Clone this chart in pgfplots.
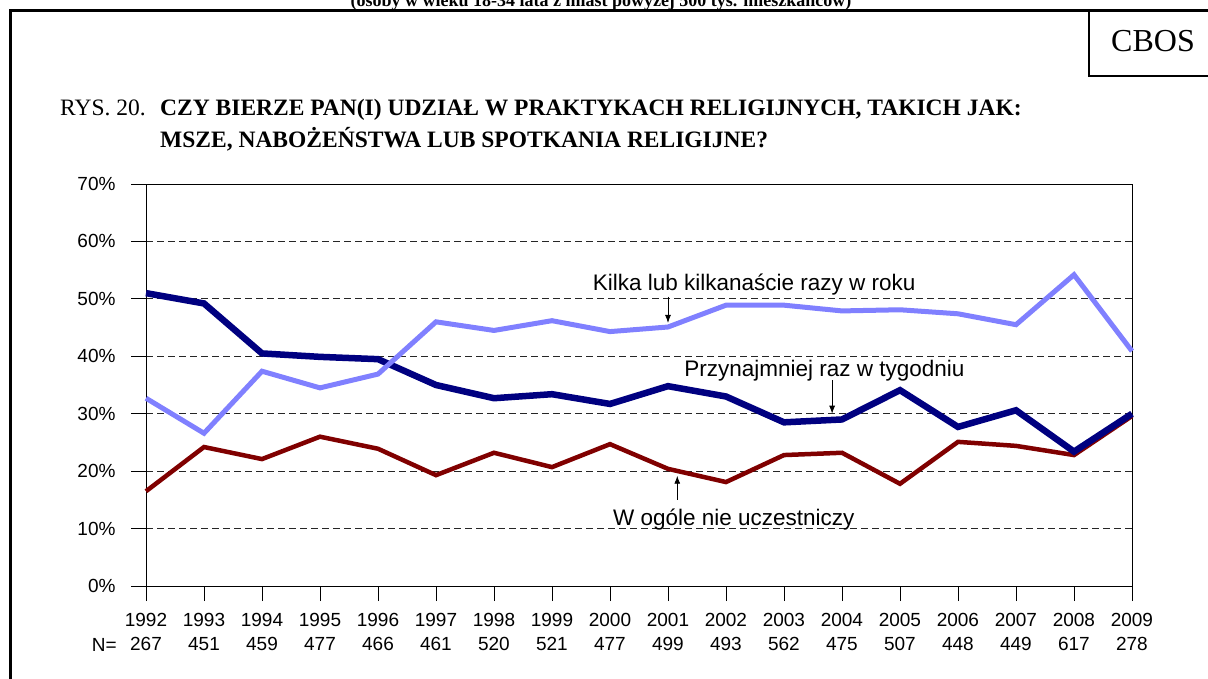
\documentclass[border=0pt]{standalone}
\usepackage{fontspec}
\setmainfont{Liberation Sans}
\newfontfamily\tnr{Liberation Serif}
\usepackage{pgfplots}
\pgfplotsset{compat=1.18}
\usetikzlibrary{arrows.meta}
\definecolor{navyline}{RGB}{0,0,128}
\definecolor{lightline}{RGB}{128,128,255}
\definecolor{redline}{RGB}{128,0,0}
\newcommand{\lab}{\fontsize{19}{24}\selectfont}
\newcommand{\ann}{\fontsize{22.5}{26}\selectfont}

\begin{document}
\begin{tikzpicture}
\useasboundingbox (0pt,0pt) rectangle (1208pt,-679pt);
% frame and header
\node[anchor=base, font=\tnr\bfseries\fontsize{18}{22}\selectfont] at (601pt,-7pt)
  {(osoby w wieku 18-34 lata z miast powyżej 500 tys. mieszkańców)};
\draw[line width=3pt] (10.5pt,-679pt) -- (10.5pt,-11pt) -- (1208pt,-11pt);
\draw[line width=2.5pt] (1089pt,-11pt) -- (1089pt,-76pt) -- (1208pt,-76pt);
\node[font=\tnr\fontsize{32}{38}\selectfont, anchor=base] at (1153pt,-52pt) {CBOS};
\node[anchor=base west, inner sep=0pt, font=\tnr\fontsize{23.5}{28}\selectfont] at (60pt,-116pt) {RYS. 20.};
\node[anchor=base west, inner sep=0pt, font=\tnr\bfseries\fontsize{23.5}{28}\selectfont] at (160pt,-116pt)
  {CZY BIERZE PAN(I) UDZIAŁ W PRAKTYKACH RELIGIJNYCH, TAKICH JAK:};
\node[anchor=base west, inner sep=0pt, font=\tnr\bfseries\fontsize{23.5}{28}\selectfont] at (160pt,-148pt)
  {MSZE, NABOŻEŃSTWA LUB SPOTKANIA RELIGIJNE?};
\node[anchor=base east, inner sep=0pt, font=\lab] at (117pt,-651pt) {N=};

\begin{axis}[
    at={(146pt,-586pt)}, anchor=south west,
    scale only axis, width=986pt, height=402pt,
    xmin=1992, xmax=2009, ymin=0, ymax=70,
    clip=false,
    axis line style={black, line width=1pt},
    xtick={1992,...,2009},
    xticklabels={{1992\\267},{1993\\451},{1994\\459},{1995\\477},{1996\\466},{1997\\461},
      {1998\\520},{1999\\521},{2000\\477},{2001\\499},{2002\\493},{2003\\562},{2004\\475},
      {2005\\507},{2006\\448},{2007\\449},{2008\\617},{2009\\278}},
    xticklabel style={align=center, font=\lab, yshift=-9pt},
    ytick={0,10,...,70},
    yticklabels={0\%,10\%,20\%,30\%,40\%,50\%,60\%,70\%},
    yticklabel style={font=\lab, xshift=-12pt},
    xtick pos=bottom, ytick pos=left,
    tick align=outside, major tick length=15pt,
    tick style={black, line width=0.8pt},
    ymajorgrids,
    grid style={black!85, line width=0.8pt, dash pattern=on 6.5pt off 4.5pt},
]
\addplot[redline, line width=4.5pt] coordinates {
 (1992,16.5) (1993,24.2) (1994,22.1) (1995,26.0) (1996,23.9) (1997,19.3)
 (1998,23.2) (1999,20.7) (2000,24.7) (2001,20.4) (2002,18.1) (2003,22.8)
 (2004,23.2) (2005,17.8) (2006,25.1) (2007,24.4) (2008,22.8) (2009,29.6)};
\addplot[navyline, line width=6.5pt] coordinates {
 (1992,51.0) (1993,49.2) (1994,40.5) (1995,39.9) (1996,39.5) (1997,35.0)
 (1998,32.7) (1999,33.4) (2000,31.7) (2001,34.8) (2002,33.0) (2003,28.5)
 (2004,29.0) (2005,34.1) (2006,27.7) (2007,30.6) (2008,23.4) (2009,30.0)};
\addplot[lightline, line width=5pt] coordinates {
 (1992,32.7) (1993,26.6) (1994,37.4) (1995,34.5) (1996,36.9) (1997,46.0)
 (1998,44.5) (1999,46.2) (2000,44.3) (2001,45.1) (2002,48.9) (2003,48.9)
 (2004,47.9) (2005,48.1) (2006,47.4) (2007,45.5) (2008,54.2) (2009,40.9)};
% annotations
\node[anchor=base west, inner sep=0pt, font=\ann] at (axis cs:1999.7,51.5) {Kilka lub kilkanaście razy w roku};
\draw[-{Latex[length=8pt,width=6pt]}, line width=0.9pt] (axis cs:2001,50.4) -- (axis cs:2001,45.8);
\node[anchor=base west, inner sep=0pt, font=\ann] at (axis cs:2001.28,36.5) {Przynajmniej raz w tygodniu};
\draw[-{Latex[length=8pt,width=6pt]}, line width=0.9pt] (axis cs:2003.83,35.8) -- (axis cs:2003.83,30.0);
\node[anchor=base west, inner sep=0pt, font=\ann] at (axis cs:2000.05,10.6) {W ogóle nie uczestniczy};
\draw[-{Latex[length=8pt,width=6pt]}, line width=0.9pt] (axis cs:2001.16,15.0) -- (axis cs:2001.16,19.2);
\end{axis}
\end{tikzpicture}
\end{document}
